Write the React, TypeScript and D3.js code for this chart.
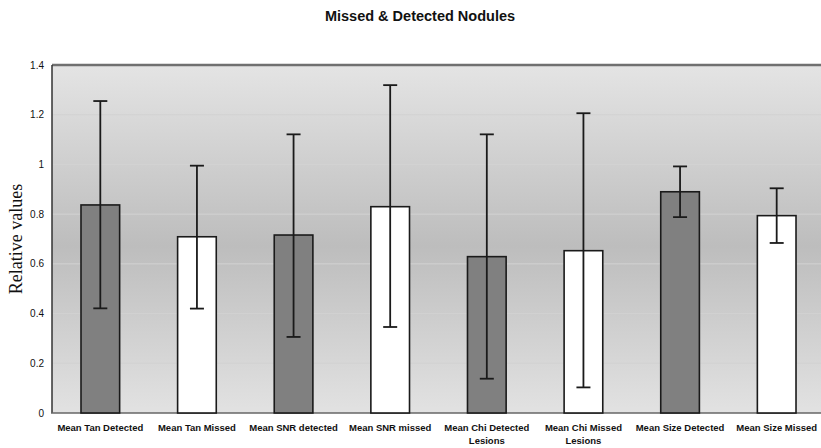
import React, { useEffect, useRef } from 'react';
import * as d3 from 'd3';

const categories = [
  ['Mean Tan Detected'],
  ['Mean Tan Missed'],
  ['Mean SNR detected'],
  ['Mean SNR missed'],
  ['Mean Chi Detected', 'Lesions'],
  ['Mean Chi Missed', 'Lesions'],
  ['Mean Size Detected'],
  ['Mean Size Missed'],
];
const values = [0.837, 0.709, 0.716, 0.83, 0.629, 0.653, 0.89, 0.794];
const errHigh = [1.255, 0.995, 1.121, 1.319, 1.121, 1.206, 0.992, 0.904];
const errLow = [0.421, 0.42, 0.306, 0.346, 0.138, 0.103, 0.788, 0.684];
const detected = [true, false, true, false, true, false, true, false];
const yTicks = [0, 0.2, 0.4, 0.6, 0.8, 1, 1.2, 1.4];

export default function App() {
  const svgRef = useRef<SVGSVGElement>(null);

  useEffect(() => {
    if (!svgRef.current) return;
    const svg = d3.select(svgRef.current);
    svg.selectAll('*').remove();

    const width = 821;
    const height = 448;
    const left = 52, right = 825, top = 65, bottom = 413;

    const x = d3.scaleBand<number>().domain(d3.range(categories.length)).range([left, right]).paddingInner(0.6).paddingOuter(0.3);
    const y = d3.scaleLinear().domain([0, 1.4]).range([bottom, top]);

    // background gradient
    const defs = svg.append('defs');
    const grad = defs.append('linearGradient').attr('id', 'bg').attr('x1', 0).attr('y1', 0).attr('x2', 0).attr('y2', 1);
    grad.append('stop').attr('offset', '0%').attr('stop-color', '#e4e4e4');
    grad.append('stop').attr('offset', '52%').attr('stop-color', '#bdbdbd');
    grad.append('stop').attr('offset', '100%').attr('stop-color', '#e2e2e2');

    svg.append('rect').attr('width', width).attr('height', height).attr('fill', '#ffffff');
    svg.append('rect').attr('x', left).attr('y', top).attr('width', right - left).attr('height', bottom - top).attr('fill', 'url(#bg)');

    // gridlines
    svg.append('g').selectAll('line').data(yTicks.slice(1, -1)).enter().append('line')
      .attr('x1', left).attr('x2', right)
      .attr('y1', d => y(d)).attr('y2', d => y(d))
      .attr('stroke', '#d2d2d2').attr('stroke-width', 1);

    // frame
    svg.append('line').attr('x1', left).attr('x2', right).attr('y1', top).attr('y2', top).attr('stroke', '#707070').attr('stroke-width', 2.5);
    svg.append('line').attr('x1', left).attr('x2', left).attr('y1', top).attr('y2', bottom).attr('stroke', '#333').attr('stroke-width', 1.5);
    svg.append('line').attr('x1', left - 1).attr('x2', right).attr('y1', bottom).attr('y2', bottom).attr('stroke', '#666').attr('stroke-width', 1.5);

    // bars
    svg.append('g').selectAll('rect').data(values).enter().append('rect')
      .attr('x', (_, i) => x(i)!)
      .attr('y', d => y(d))
      .attr('width', x.bandwidth())
      .attr('height', d => bottom - y(d))
      .attr('fill', (_, i) => (detected[i] ? '#808080' : '#ffffff'))
      .attr('stroke', '#1a1a1a').attr('stroke-width', 1.6);

    // error bars
    const eb = svg.append('g').attr('stroke', '#1a1a1a').attr('stroke-width', 1.8);
    values.forEach((_, i) => {
      const cx = x(i)! + x.bandwidth() / 2;
      eb.append('line').attr('x1', cx).attr('x2', cx).attr('y1', y(errHigh[i])).attr('y2', y(errLow[i]));
      eb.append('line').attr('x1', cx - 7).attr('x2', cx + 7).attr('y1', y(errHigh[i])).attr('y2', y(errHigh[i]));
      eb.append('line').attr('x1', cx - 7).attr('x2', cx + 7).attr('y1', y(errLow[i])).attr('y2', y(errLow[i]));
    });

    // y tick labels
    svg.append('g').selectAll('text').data(yTicks).enter().append('text')
      .attr('x', 44).attr('y', d => y(d) + 3.5)
      .attr('text-anchor', 'end')
      .attr('font-family', 'Liberation Sans, Arial, sans-serif')
      .attr('font-size', 10).attr('fill', '#111')
      .text(d => String(d));

    // x labels
    const xl = svg.append('g');
    categories.forEach((lines, i) => {
      const cx = x(i)! + x.bandwidth() / 2;
      lines.forEach((t, j) => {
        xl.append('text')
          .attr('x', cx).attr('y', 431 + j * 13)
          .attr('text-anchor', 'middle')
          .attr('font-family', 'Liberation Sans, Arial, sans-serif')
          .attr('font-size', 9.5).attr('font-weight', 'bold').attr('fill', '#111')
          .text(t);
      });
    });

    // y title
    svg.append('text')
      .attr('transform', `translate(22,${(top + bottom) / 2}) rotate(-90)`)
      .attr('text-anchor', 'middle')
      .attr('font-family', 'Liberation Serif, Times New Roman, serif')
      .attr('font-size', 18).attr('fill', '#111')
      .text('Relative values');

    // title
    svg.append('text')
      .attr('x', 420).attr('y', 21)
      .attr('text-anchor', 'middle')
      .attr('font-family', 'Liberation Sans, Arial, sans-serif')
      .attr('font-size', 14.5).attr('font-weight', 'bold').attr('fill', '#111')
      .text('Missed & Detected Nodules');
  }, []);

  return (
    <div style={{ position: 'fixed', left: 0, top: 0 }}>
      <svg ref={svgRef} width={821} height={448} style={{ display: 'block' }}></svg>
    </div>
  );
}
